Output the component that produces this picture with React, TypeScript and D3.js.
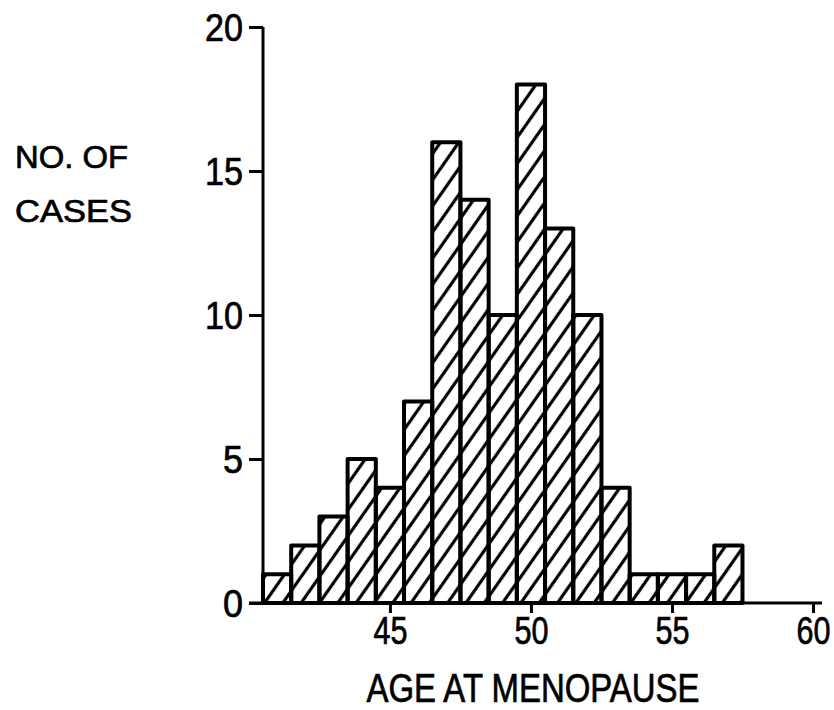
import React, { useEffect, useRef } from 'react';
import * as d3 from 'd3';

// ages (bar centres) and number of cases
const AGES = [41, 42, 43, 44, 45, 46, 47, 48, 49, 50, 51, 52, 53, 54, 55, 56, 57];
const COUNTS = [1, 2, 3, 5, 4, 7, 16, 14, 10, 18, 13, 10, 4, 1, 1, 1, 2];
const Y_TICKS = [0, 5, 10, 15, 20];
const X_TICKS = [45, 50, 55, 60];

const W = 834;
const H = 710;
const FONT = "'Liberation Sans', Arial, sans-serif";

export default function App() {
    const svgRef = useRef<SVGSVGElement>(null);

    useEffect(() => {
        if (!svgRef.current) return;
        document.body.style.margin = '0';

        const svg = d3.select(svgRef.current);
        svg.selectAll('*').remove();

        const x = d3.scaleLinear().domain([40.5, 60]).range([263, 813]);
        const y = d3.scaleLinear().domain([0, 20]).range([603, 27]);

        // diagonal hatch
        const defs = svg.append('defs');
        const pat = defs.append('pattern')
            .attr('id', 'hatch')
            .attr('patternUnits', 'userSpaceOnUse')
            .attr('width', 15)
            .attr('height', 15)
            .attr('patternTransform', 'rotate(35)');
        pat.append('line')
            .attr('x1', 7.5).attr('x2', 7.5)
            .attr('y1', -1).attr('y2', 16)
            .attr('stroke', '#000')
            .attr('stroke-width', 3.2);

        // bars
        svg.append('g').selectAll('rect').data(AGES).enter()
            .append('rect')
            .attr('x', (d) => x(d - 0.5))
            .attr('y', (_d, i) => y(COUNTS[i]))
            .attr('width', (d) => x(d + 0.5) - x(d - 0.5))
            .attr('height', (_d, i) => y(0) - y(COUNTS[i]))
            .attr('fill', 'url(#hatch)')
            .attr('stroke', '#000')
            .attr('stroke-width', 4)
            .attr('stroke-linejoin', 'round');

        // axes, domains drawn separately to match the plotter look
        const yAxis = svg.append('g')
            .attr('transform', `translate(${x(40.5)},0)`)
            .call(d3.axisLeft(y).tickValues(Y_TICKS).tickSize(14).tickPadding(6));
        yAxis.select('.domain').remove();
        yAxis.selectAll('.tick line').attr('stroke', '#000').attr('stroke-width', 3);
        yAxis.selectAll('.tick text')
            .attr('fill', '#000')
            .attr('stroke', '#000')
            .attr('stroke-width', 0.7)
            .style('font-family', FONT)
            .style('font-size', '38px')
            .attr('dy', '0.36em')
            .attr('textLength', (d: any) => (String(d).length === 1 ? 20 : 38))
            .attr('lengthAdjust', 'spacingAndGlyphs');
        svg.append('line')
            .attr('x1', x(40.5)).attr('x2', x(40.5))
            .attr('y1', y(20)).attr('y2', y(0))
            .attr('stroke', '#000').attr('stroke-width', 3);

        const xAxis = svg.append('g')
            .attr('transform', `translate(0,${y(0)})`)
            .call(d3.axisBottom(x).tickValues(X_TICKS).tickSize(10).tickPadding(4));
        xAxis.select('.domain').remove();
        xAxis.selectAll('.tick line').attr('stroke', '#000').attr('stroke-width', 3);
        xAxis.selectAll('.tick text')
            .attr('fill', '#000')
            .attr('stroke', '#000')
            .attr('stroke-width', 0.7)
            .style('font-family', FONT)
            .style('font-size', '38px')
            .attr('textLength', 34)
            .attr('lengthAdjust', 'spacingAndGlyphs');
        svg.append('line')
            .attr('x1', x(40.5) - 14).attr('x2', x(60.32))
            .attr('y1', y(0)).attr('y2', y(0))
            .attr('stroke', '#000').attr('stroke-width', 3);

        // titles
        svg.append('text')
            .attr('x', 533).attr('y', 702)
            .attr('text-anchor', 'middle')
            .attr('textLength', 333)
            .attr('lengthAdjust', 'spacingAndGlyphs')
            .attr('stroke', '#000')
            .attr('stroke-width', 0.7)
            .style('font-family', FONT)
            .style('font-size', '40px')
            .text('AGE AT MENOPAUSE');

        svg.append('text')
            .attr('x', 15).attr('y', 168)
            .attr('textLength', 113)
            .attr('lengthAdjust', 'spacingAndGlyphs')
            .attr('stroke', '#000')
            .attr('stroke-width', 0.7)
            .style('font-family', FONT)
            .style('font-size', '32px')
            .text('NO. OF');
        svg.append('text')
            .attr('x', 15).attr('y', 222)
            .attr('textLength', 117)
            .attr('lengthAdjust', 'spacingAndGlyphs')
            .attr('stroke', '#000')
            .attr('stroke-width', 0.7)
            .style('font-family', FONT)
            .style('font-size', '32px')
            .text('CASES');
    }, []);

    return (
        <svg
            ref={svgRef}
            width={W}
            height={H}
            style={{ display: 'block', background: '#fff', position: 'absolute', left: 0, top: 0 }}
        />
    );
}
